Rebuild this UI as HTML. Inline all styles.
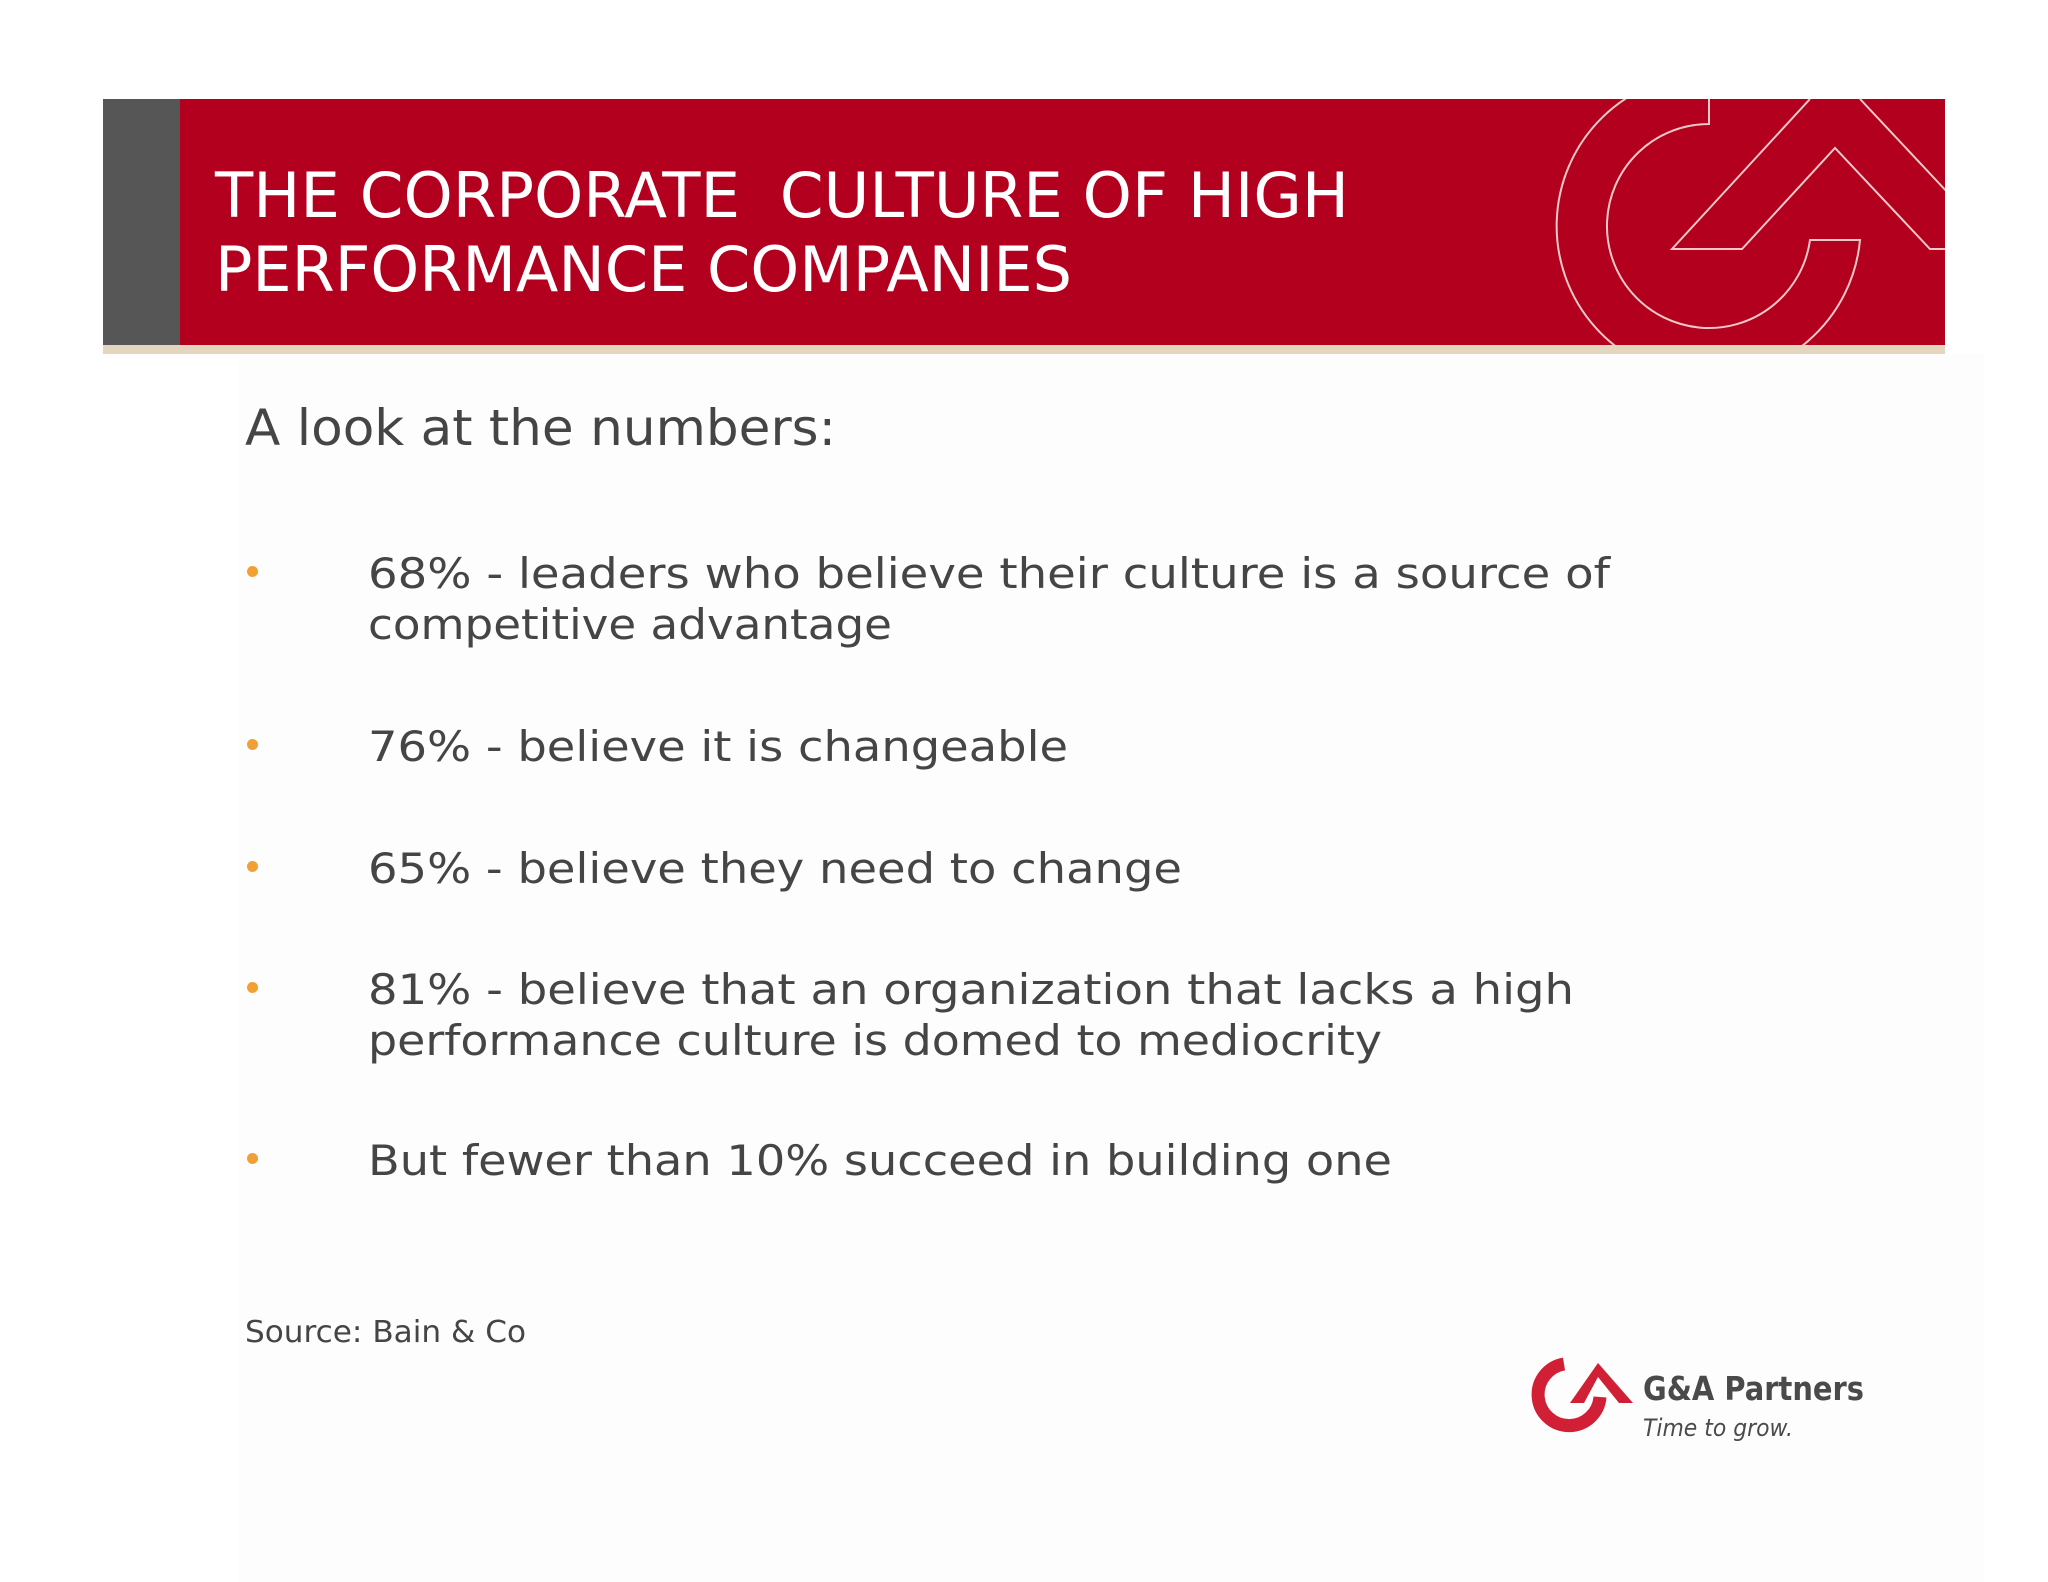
<!DOCTYPE html>
<html>
<head>
<meta charset="utf-8">
<style>
  html,body{margin:0;padding:0;}
  body{width:2048px;height:1582px;position:relative;overflow:hidden;background:#ffffff;font-family:"DejaVu Sans","Liberation Sans",sans-serif;}
  .abs{position:absolute;white-space:nowrap;}
  .fit{display:inline-block;transform-origin:0 0;}
  .t{color:#ffffff;font-size:62px;line-height:1;}
  .b{color:#454545;font-size:42px;line-height:1;}
  .dot{position:absolute;width:11px;height:11px;border-radius:50%;background:#f2a033;}
</style>
</head>
<body>
<div class="abs" style="left:239px;top:354px;width:1745px;height:1228px;background:#fdfdfd;"></div>

<div class="abs" style="left:103px;top:99px;width:1842px;height:246px;background:#b2001e;"></div>
<div class="abs" style="left:103px;top:99px;width:77px;height:246px;background:#565656;"></div>
<div class="abs" style="left:103px;top:345px;width:1842px;height:9px;background:#e4d6be;"></div>

<svg class="abs" style="left:0;top:0;" width="2048" height="400">
  <defs><clipPath id="hc"><rect x="103" y="99" width="1842" height="246"/></clipPath></defs>
  <g clip-path="url(#hc)" fill="none" stroke="#f0c8c8" stroke-width="2">
    <path d="M1709,99 L1709,124 A102,102 0 1 0 1810,240 L1860,240 A152,152 0 1 1 1709,74"/>
    <path d="M1810,99 L1672,249 L1742,249 L1835,148 L1930,249 L1950,249"/>
    <path d="M1860,99 L1950,195"/>
  </g>
</svg>

<div class="abs t" style="left:215px;top:165px;"><span class="fit" data-w="1134">THE CORPORATE&nbsp; CULTURE OF HIGH</span></div>
<div class="abs t" style="left:215px;top:239px;"><span class="fit" data-w="857">PERFORMANCE COMPANIES</span></div>

<div class="abs" style="left:245px;top:403px;color:#454545;font-size:50px;line-height:1;"><span class="fit" data-w="591">A look at the numbers:</span></div>

<div class="dot" style="left:247px;top:566px;"></div>
<div class="abs b" style="left:368px;top:553px;"><span class="fit" data-w="1242">68% - leaders who believe their culture is a source of</span></div>
<div class="abs b" style="left:368px;top:604px;"><span class="fit" data-w="524">competitive advantage</span></div>

<div class="dot" style="left:247px;top:739px;"></div>
<div class="abs b" style="left:368px;top:726px;"><span class="fit" data-w="700">76% - believe it is changeable</span></div>

<div class="dot" style="left:247px;top:861px;"></div>
<div class="abs b" style="left:368px;top:848px;"><span class="fit" data-w="814">65% - believe they need to change</span></div>

<div class="dot" style="left:247px;top:982px;"></div>
<div class="abs b" style="left:368px;top:969px;"><span class="fit" data-w="1206">81% - believe that an organization that lacks a high</span></div>
<div class="abs b" style="left:368px;top:1020px;"><span class="fit" data-w="1014">performance culture is domed to mediocrity</span></div>

<div class="dot" style="left:247px;top:1153px;"></div>
<div class="abs b" style="left:368px;top:1140px;"><span class="fit" data-w="1024">But fewer than 10% succeed in building one</span></div>

<div class="abs" style="left:245px;top:1318px;color:#454545;font-size:30px;line-height:1;"><span class="fit" data-w="281">Source: Bain &amp; Co</span></div>

<svg class="abs" style="left:1520px;top:1345px;" width="130" height="100">
  <path d="M44,19 A31,31 0 1 0 80,52" fill="none" stroke="#d11f35" stroke-width="13"/>
  <polygon points="50,58 78,18 113,58 99,58 78,32 64,58" fill="#d11f35"/>
</svg>
<div class="abs" style="left:1643px;top:1372px;color:#4a4a4a;font-size:33px;font-weight:bold;line-height:1;"><span class="fit" data-w="221">G&amp;A Partners</span></div>
<div class="abs" style="left:1643px;top:1416px;color:#4a4a4a;font-size:24px;font-style:italic;line-height:1;"><span class="fit" data-w="150">Time to grow.</span></div>

<script>
document.querySelectorAll('.fit').forEach(function(s){
  var w = parseFloat(s.getAttribute('data-w'));
  var cur = s.getBoundingClientRect().width;
  if (cur > 0) s.style.transform = 'scaleX(' + (w / cur) + ')';
});
</script>
</body>
</html>
